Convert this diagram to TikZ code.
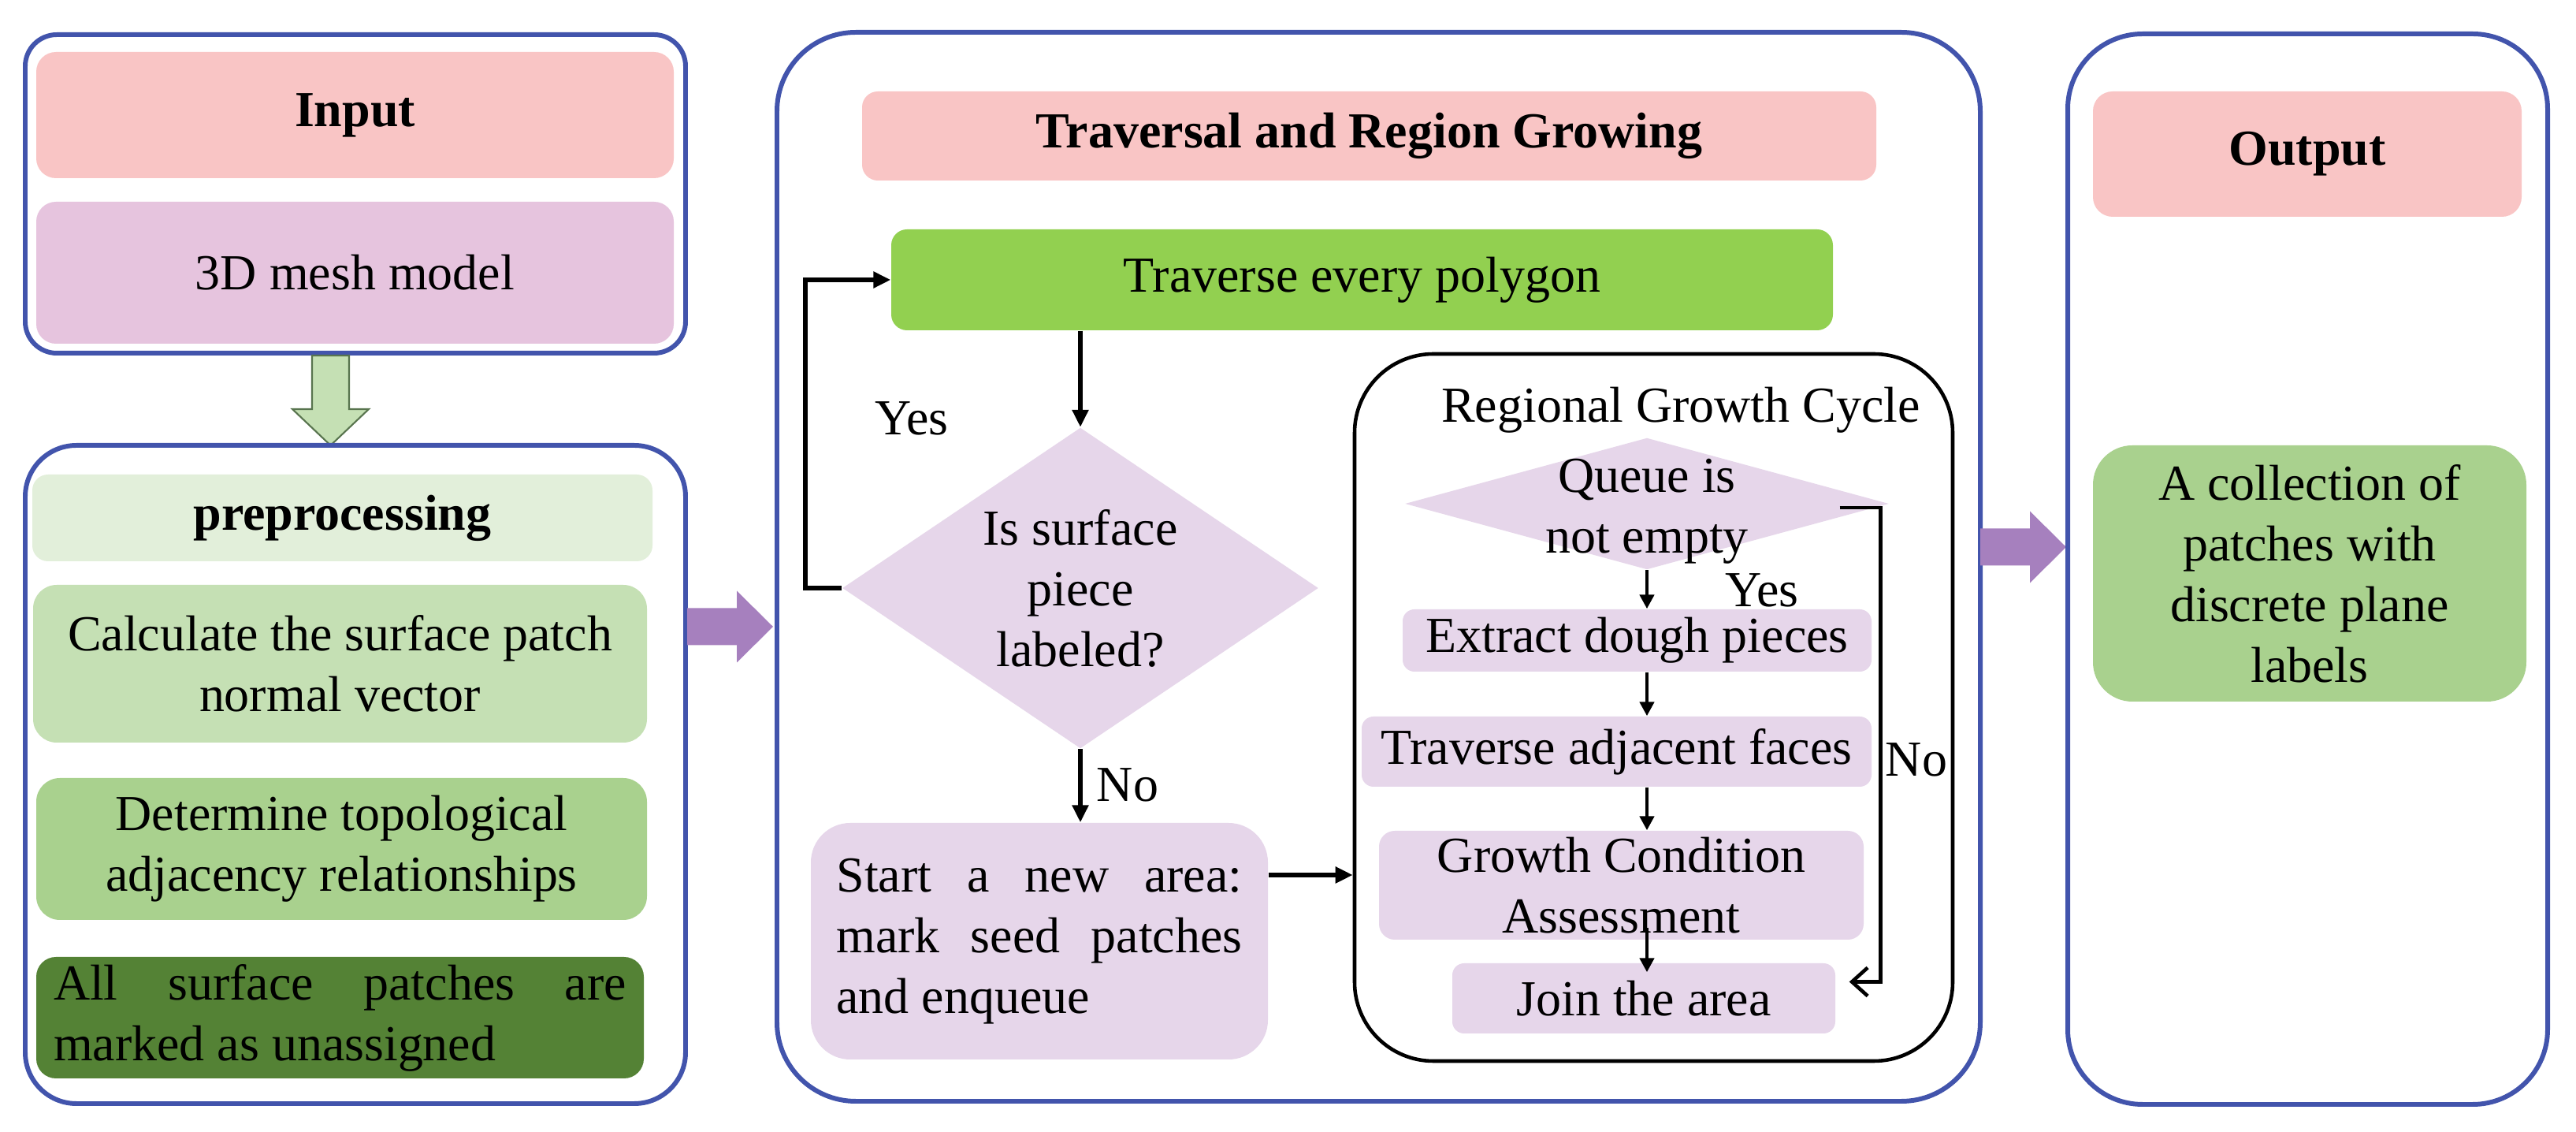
\documentclass[tikz,border=0pt]{standalone}
\usepackage{fontspec}
\setmainfont{Liberation Serif}
\usetikzlibrary{positioning, shapes.geometric, arrows.meta}

\definecolor{panelblue}{RGB}{66,84,172}
\definecolor{titlepink}{RGB}{249,197,197}
\definecolor{meshpink}{RGB}{230,196,222}
\definecolor{lavender}{RGB}{230,214,234}
\definecolor{prepgreen}{RGB}{226,239,218}
\definecolor{calcgreen}{RGB}{197,224,180}
\definecolor{detgreen}{RGB}{169,209,142}
\definecolor{darkgreen}{RGB}{84,130,53}
\definecolor{travgreen}{RGB}{146,208,80}
\definecolor{arrowpurple}{RGB}{166,128,190}
\definecolor{arrowedge}{RGB}{88,116,78}

\hyphenpenalty=10000
\exhyphenpenalty=10000

\begin{document}
\begin{tikzpicture}
    [font=\fontsize{18.2}{21.9}\selectfont,
     panel/.style={rectangle, draw=panelblue, line width=1.7pt, fill=white},
     textbox/.style={rectangle, inner sep=2pt, align=center},
     headbox/.style={textbox, fill=titlepink, rounded corners=0.25cm,
       font=\fontsize{18.2}{21.9}\selectfont\bfseries},
     decision/.style={diamond, fill=lavender, inner sep=0pt},
     flowarrow/.style={line width=1.6pt, -{Triangle[length=0.22cm, width=0.2cm]}},
     innerarrow/.style={line width=1.3pt, -{Triangle[length=0.18cm, width=0.18cm]}},
     pics/blockarrow/.style={code={
       \fill[arrowpurple] (0,0.235) -- (0.63,0.235) -- (0.63,0.455) -- (1.09,0)
         -- (0.63,-0.455) -- (0.63,-0.235) -- (0,-0.235) -- cycle;}}]
    \useasboundingbox (0,0) rectangle (32.69,-14.36);

    % input and preprocessing
    \node[panel, rounded corners=0.4cm, minimum width=8.38cm, minimum height=4.04cm] (inPanel) at (4.51,-2.46) {};
    \node[headbox, minimum width=8.09cm, minimum height=1.60cm] (input) at (4.505,-1.46) {Input};
    \node[textbox, fill=meshpink, rounded corners=0.25cm, minimum width=8.09cm, minimum height=1.80cm] (mesh) at (4.505,-3.46) {3D mesh model};
    \draw[draw=arrowedge, fill=calcgreen, line width=0.6pt] ([xshift=-0.315cm]inPanel.south) ++(-0.235,0)
      -- ++(0,-0.68) -- ++(-0.25,0) -- ++(0.485,-0.46) -- ++(0.485,0.46) -- ++(-0.25,0) -- ++(0,0.68) -- cycle;

    \node[panel, rounded corners=0.65cm, minimum width=8.38cm, minimum height=8.35cm] (prePanel) at (4.51,-9.825) {};
    \node[headbox, fill=prepgreen, rounded corners=0.2cm, minimum width=7.87cm, minimum height=1.10cm] (prep) at (4.345,-6.57) {preprocessing};
    \node[textbox, fill=calcgreen, rounded corners=0.3cm, minimum width=7.79cm, minimum height=2.00cm] (normal) at (4.315,-8.42) {Calculate the surface patch\\normal vector};
    \node[textbox, fill=detgreen, rounded corners=0.3cm, minimum width=7.75cm, minimum height=1.80cm] (topo) at (4.335,-10.77) {Determine topological\\adjacency relationships};
    \node[textbox, fill=darkgreen, rounded corners=0.25cm, minimum width=7.71cm, minimum height=1.54cm, text width=7.27cm, align=justify] (unassigned) at (4.315,-12.91) {All surface patches are marked as unassigned};

    \pic at (8.72,-7.95) {blockarrow};

    % traversal and region growing
    \node[panel, rounded corners=1cm, minimum width=15.27cm, minimum height=13.56cm] (midPanel) at (17.495,-7.19) {};
    \node[headbox, rounded corners=0.2cm, minimum width=12.87cm, minimum height=1.13cm] (travTitle) at (17.375,-1.725) {Traversal and Region Growing};
    \node[textbox, fill=travgreen, rounded corners=0.2cm, minimum width=11.95cm, minimum height=1.28cm] (trav) at (17.285,-3.55) {Traverse every polygon};
    \node[decision, minimum width=6.04cm, minimum height=4.07cm] (labeled) at (13.71,-7.46) {};
    \node[align=center] (labeledText) at (labeled.center) {Is surface\\piece\\labeled?};
    \node[textbox, fill=lavender, rounded corners=0.5cm, minimum width=5.80cm, minimum height=3.00cm, text width=5.15cm, align=justify] (seed) at (13.19,-11.94) {Start a new area: mark seed patches and enqueue};

    \node[rectangle, draw=black, line width=1.3pt, rounded corners=1cm, minimum width=7.59cm, minimum height=8.97cm] (cycle) at (20.985,-8.975) {};
    \node (cycleTitle) at (21.33,-5.20) {Regional Growth Cycle};
    \node[decision, minimum width=6.14cm, minimum height=1.67cm] (queue) at (20.90,-6.39) {};
    \node[align=center] (queueText) at (20.90,-6.49) {Queue is\\not empty};
    \node[textbox, fill=lavender, rounded corners=0.15cm, minimum width=5.95cm, minimum height=0.79cm] (extract) at (20.775,-8.125) {Extract dough pieces};
    \node[textbox, fill=lavender, rounded corners=0.15cm, minimum width=6.47cm, minimum height=0.89cm] (adjacent) at (20.515,-9.535) {Traverse adjacent faces};
    \node[textbox, fill=lavender, rounded corners=0.2cm, minimum width=6.15cm, minimum height=1.38cm] (growth) at (20.575,-11.23) {Growth Condition\\Assessment};
    \node[textbox, fill=lavender, rounded corners=0.15cm, minimum width=4.86cm, minimum height=0.89cm] (join) at (20.86,-12.665) {Join the area};

    \draw[flowarrow] (labeled.west) -- ++(-0.46,0) |- (trav.west);
    \draw[flowarrow] (trav.south -| labeled.north) -- (labeled.north);
    \draw[flowarrow] (labeled.south) -- (labeled.south |- seed.north);
    \draw[flowarrow] ([yshift=0.84cm]seed.east) -- ([yshift=0.84cm]seed.east -| cycle.west);
    \node (yesLoop) at (11.57,-5.31) {Yes};
    \node (noSeed) at (14.31,-9.96) {No};

    \draw[innerarrow] (queue.south) -- (queue.south |- extract.north);
    \draw[innerarrow] (extract.south -| queue.south) -- (adjacent.north -| queue.south);
    \draw[innerarrow] (adjacent.south -| queue.south) -- (growth.north -| queue.south);
    \draw[innerarrow] ([yshift=0.16cm]growth.south -| queue.south) -- ([yshift=-0.12cm]join.north -| queue.south);
    \draw[line width=1.3pt, -{Straight Barb[length=0.2cm, width=0.36cm]}] ([xshift=-0.63cm, yshift=-0.05cm]queue.east)
      -- ++(0.52,0) |- ([xshift=0.17cm, yshift=0.21cm]join.east);
    \node (yesQueue) at (22.36,-7.49) {Yes};
    \node (noQueue) at (24.32,-9.64) {No};

    \pic at (25.13,-6.94) {blockarrow};

    % output
    \node[panel, rounded corners=0.95cm, minimum width=6.09cm, minimum height=13.58cm] (outPanel) at (29.285,-7.22) {};
    \node[headbox, minimum width=5.44cm, minimum height=1.59cm] (output) at (29.28,-1.955) {Output};
    \node[textbox, fill=detgreen, rounded corners=0.5cm, minimum width=5.50cm, minimum height=3.25cm] (patches) at (29.31,-7.275) {A collection of\\patches with\\discrete plane\\labels};
\end{tikzpicture}
\end{document}
